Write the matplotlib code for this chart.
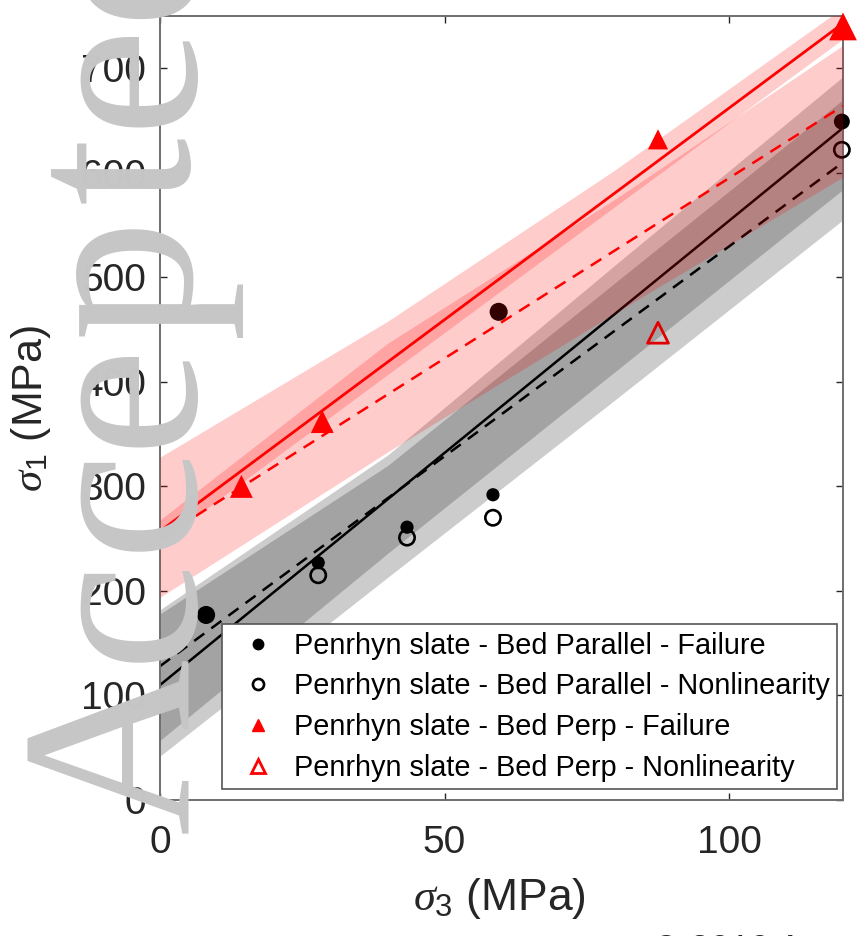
import matplotlib
matplotlib.use('Agg')
import matplotlib.pyplot as plt
from matplotlib.lines import Line2D
import numpy as np

# measured points (sigma3, sigma1) in MPa
sig3_par_fail = [8.1, 27.8, 43.4, 58.5, 59.5, 119.8]
sig1_par_fail = [177, 227, 261, 292, 467, 649]
sig3_par_nonlin = [27.8, 43.4, 58.5, 119.8]
sig1_par_nonlin = [215, 251, 270, 622]
sig3_perp_fail = [14.3, 28.5, 87.5, 120]
sig1_perp_fail = [300, 362, 632, 740]
sig3_perp_nonlin = [87.5]
sig1_perp_nonlin = [447]

# fitted envelopes (values at sigma3 = 0 and 120)
fit_x = [0, 120]
fit_par_fail = [110, 643]
fit_par_nonlin = [128, 610]
fit_perp_fail = [257, 743]
fit_perp_nonlin = [250, 664]

# uncertainty bands
band_x = [0, 40, 80, 120]
band_par_fail_lo = [57, 236, 410, 584]
band_par_fail_hi = [182, 330, 512, 692]
band_par_nonlin_lo = [42, 213, 383, 555]
band_par_nonlin_hi = [178, 320, 495, 670]
band_perp_fail_lo = [246, 407, 568, 728]
band_perp_fail_hi = [328, 458, 603, 758]
band_perp_nonlin_lo = [194, 333, 466, 596]
band_perp_nonlin_hi = [268, 437, 575, 722]

labels = ['Penrhyn slate - Bed Parallel - Failure',
          'Penrhyn slate - Bed Parallel - Nonlinearity',
          'Penrhyn slate - Bed Perp - Failure',
          'Penrhyn slate - Bed Perp - Nonlinearity']

plt.rcParams['font.family'] = ['Liberation Sans', 'DejaVu Sans']
plt.rcParams['mathtext.fontset'] = 'custom'
plt.rcParams['mathtext.rm'] = 'Liberation Sans'
plt.rcParams['mathtext.it'] = 'Liberation Serif:italic'

fig = plt.figure(figsize=(8.62, 9.36), dpi=100)
ax = fig.add_axes([160 / 862, 136 / 936, 683 / 862, 784 / 936])

# grey bands (bed parallel)
ax.fill_between(band_x, band_par_fail_lo, band_par_fail_hi, color='black',
                alpha=0.2, lw=0, zorder=1)
ax.fill_between(band_x, band_par_nonlin_lo, band_par_nonlin_hi, color='black',
                alpha=0.2, lw=0, zorder=1)
ax.plot(fit_x, fit_par_fail, color='black', lw=1.8, zorder=2)
ax.plot(fit_x, fit_par_nonlin, color='black', lw=1.8, ls=(0, (5, 3.5)), zorder=2)

# marker sizes (pt)
ms_par_fail = [13, 9.5, 9.5, 9.5, 13, 11.5]
ax.scatter(sig3_par_fail, sig1_par_fail, s=np.array(ms_par_fail) ** 2,
           c='black', marker='o', lw=0, zorder=3, clip_on=False)
ax.scatter(sig3_par_nonlin, sig1_par_nonlin, s=11 ** 2, facecolors='none',
           edgecolors='black', lw=1.9, marker='o', zorder=3, clip_on=False)

# red bands (bed perpendicular)
ax.fill_between(band_x, band_perp_fail_lo, band_perp_fail_hi, color='red',
                alpha=0.2, lw=0, zorder=4)
ax.fill_between(band_x, band_perp_nonlin_lo, band_perp_nonlin_hi, color='red',
                alpha=0.2, lw=0, zorder=4)
ax.plot(fit_x, fit_perp_fail, color='red', lw=2.0, zorder=5)
ax.plot(fit_x, fit_perp_nonlin, color='red', lw=1.8, ls=(0, (5, 3.5)), zorder=5)

ms_perp_fail = [16.5, 16.5, 14.5, 20]
ax.scatter(sig3_perp_fail, sig1_perp_fail, s=np.array(ms_perp_fail) ** 2,
           c='red', marker='^', lw=0, zorder=6, clip_on=False)
ax.scatter(sig3_perp_nonlin, sig1_perp_nonlin, s=15 ** 2, facecolors='none',
           edgecolors='#e00000', lw=2.0, marker='^', zorder=6, clip_on=False)

ax.set_xlim(0, 120)
ax.set_ylim(0, 750)
ax.set_xticks([0, 50, 100])
ax.set_yticks(np.arange(0, 701, 100))
ax.tick_params(direction='in', length=5, width=1, colors='#262626',
               labelsize=28, top=True, right=True)
ax.tick_params(axis='x', pad=18)
ax.tick_params(axis='y', pad=10)
for sp in ax.spines.values():
    sp.set_color('#6e6e6e')
    sp.set_linewidth(1.4)

ax.set_xlabel(r'$\sigma_3$ (MPa)', fontsize=32, color='#262626')
ax.set_ylabel(r'$\sigma_1$ (MPa)', fontsize=31, color='#262626')
ax.xaxis.set_label_coords(0.497, -0.097)
ax.yaxis.set_label_coords(-0.157, 0.5)

handles = [
    Line2D([], [], ls='none', marker='o', ms=7.5, mfc='black', mec='black'),
    Line2D([], [], ls='none', marker='o', ms=8, mfc='none', mec='black', mew=1.9),
    Line2D([], [], ls='none', marker='^', ms=9, mfc='red', mec='red'),
    Line2D([], [], ls='none', marker='^', ms=10, mfc='none', mec='red', mew=2),
]
leg = ax.legend(handles, labels, loc='lower left', bbox_to_anchor=(0.0908, 0.014),
                borderaxespad=0, fontsize=20.8, frameon=True, fancybox=False,
                framealpha=1, edgecolor='#555555', borderpad=0.25,
                handlelength=2.0, handletextpad=0.25, labelspacing=0.44)
leg.get_frame().set_linewidth(1.2)
leg.set_zorder(10)

# watermark, one letter at a time (centres in pixels from the top)
wm_letters = ['A', 'c', 'c', 'e', 'p', 't', 'e', 'd']
wm_centres = [745, 608, 497, 393, 276, 169, 73, -42]
for ch, yc in zip(wm_letters, wm_centres):
    fig.text(188 / 862, 1 - yc / 936, ch, rotation=90, rotation_mode='anchor',
             ha='center', va='baseline', fontsize=176, family='Liberation Serif',
             color='#c6c6c6', zorder=20)

fig.text(0.757, 2 / 936, '\u00a9 2019 A', va='top', ha='left', fontsize=26,
         color='#262626')

fig.savefig('out.png', dpi=100)
